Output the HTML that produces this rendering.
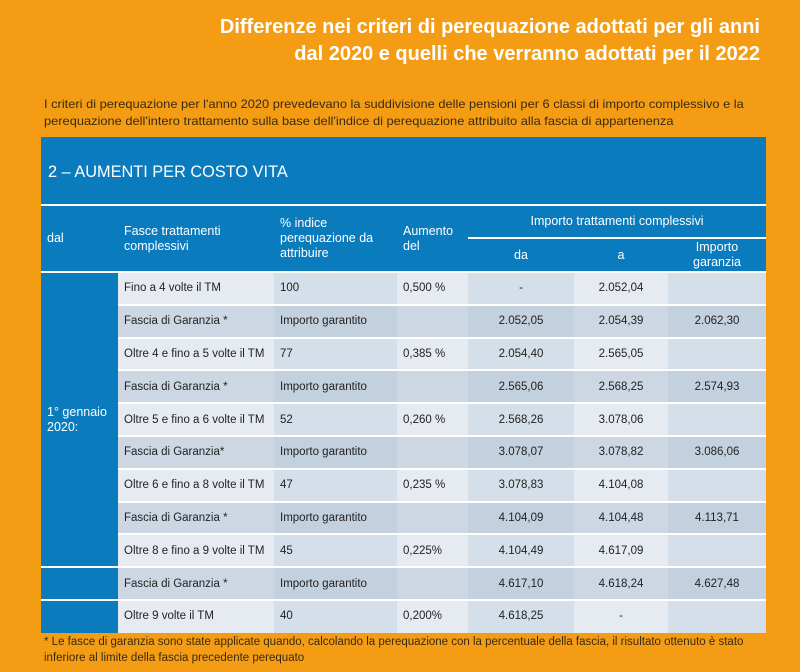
<!DOCTYPE html>
<html><head><meta charset="utf-8"><style>
*{margin:0;padding:0;box-sizing:border-box}
body{width:800px;height:672px;background:#f49d14;font-family:"Liberation Sans",sans-serif;position:relative;overflow:hidden}
.t{position:absolute;right:40px;color:#fff;font-weight:bold;font-size:20px;white-space:nowrap;transform-origin:right center;transform:scaleX(1.0)}
.i{position:absolute;left:44px;color:#3a2a10;font-size:12px;white-space:nowrap;transform-origin:left center;transform:scaleX(1.07)}
.box{position:absolute;left:41px;top:137px;width:725px;height:496px;background:#0a7bbd}
.cap{position:absolute;left:7px;top:25px;color:#fff;font-size:17px;transform-origin:left;transform:scaleX(0.96)}
.c{position:absolute;font-size:11.5px;color:#222;display:flex;align-items:center;padding-left:6px;white-space:nowrap}
.h{color:#fff;font-size:12.5px;line-height:15px;white-space:normal}
.ctr{justify-content:center;padding-left:0}
.wl{position:absolute;background:#fff}
</style></head><body>
<div class="t" style="top:16px">Differenze nei criteri di perequazione adottati per gli anni</div>
<div class="t" style="top:43px">dal 2020 e quelli che verranno adottati per il 2022</div>
<div class="i" style="top:97px">I criteri di perequazione per l'anno 2020 prevedevano la suddivisione delle pensioni per 6 classi di importo complessivo e la</div>
<div class="i" style="top:114px">perequazione dell'intero trattamento sulla base dell'indice di perequazione attribuito alla fascia di appartenenza</div>
<div class="box">
<div class="cap">2 – AUMENTI PER COSTO VITA</div>
</div>
<div class="i" style="top:636px;font-size:11.5px;transform:scaleX(1.0)">* Le fasce di garanzia sono state applicate quando, calcolando la perequazione con la percentuale della fascia, il risultato ottenuto è stato</div>
<div class="i" style="top:652px;font-size:11.5px;transform:scaleX(1.0)">inferiore al limite della fascia precedente perequato</div>
<script>
var box=document.querySelector('.box');
var X=[0,77,233,356,427,533,627,725];
var T0=135;
var rows=[
["Fino a 4 volte il TM","100","0,500 %","-","2.052,04",""],
["Fascia di Garanzia *","Importo garantito","","2.052,05","2.054,39","2.062,30"],
["Oltre 4 e fino a 5 volte il TM","77","0,385 %","2.054,40","2.565,05",""],
["Fascia di Garanzia *","Importo garantito","","2.565,06","2.568,25","2.574,93"],
["Oltre 5 e fino a 6 volte il TM","52","0,260 %","2.568,26","3.078,06",""],
["Fascia di Garanzia*","Importo garantito","","3.078,07","3.078,82","3.086,06"],
["Oltre 6 e fino a 8 volte il TM","47","0,235 %","3.078,83","4.104,08",""],
["Fascia di Garanzia *","Importo garantito","","4.104,09","4.104,48","4.113,71"],
["Oltre 8 e fino a 9 volte il TM","45","0,225%","4.104,49","4.617,09",""],
["Fascia di Garanzia *","Importo garantito","","4.617,10","4.618,24","4.627,48"],
["Oltre 9 volte il TM","40","0,200%","4.618,25","-",""]];
var H=32.8,html='';
function cell(x,y,w,h,txt,cls,bg){html+='<div class="c '+(cls||'')+'" style="left:'+x+'px;top:'+y+'px;width:'+w+'px;height:'+h+'px;'+(bg?'background:'+bg:'')+'">'+txt+'</div>';}
for(var r=0;r<11;r++){
 var y=T0+r*H, g=r%2==1;
 for(var k=1;k<7;k++){
  var bg=g?(k%2?'#ccd7e3':'#c3d0de'):(k%2?'#e6ebf1':'#d5dfe9');
  cell(X[k],y,X[k+1]-X[k],H,rows[r][k-1],k>=4?'ctr':'',bg);
 }
}
cell(0,68,77,67,'dal','h');
cell(X[1],68,X[2]-X[1],67,'Fasce trattamenti<br>complessivi','h');
cell(X[2],68,X[3]-X[2],67,'% indice<br>perequazione da<br>attribuire','h');
cell(X[3],68,X[4]-X[3],67,'Aumento<br>del','h');
cell(X[4],68,X[7]-X[4],33,'Importo trattamenti complessivi','h ctr');
cell(X[4],101,X[5]-X[4],34,'da','h ctr');
cell(X[5],101,X[6]-X[5],34,'a','h ctr');
cell(X[6],101,X[7]-X[6],34,'<span style="text-align:center">Importo<br>garanzia</span>','h ctr');
cell(0,T0,77,9*H,'1° gennaio<br>2020:','h');
function wl(x,y,w,h){html+='<div class="wl" style="left:'+x+'px;top:'+y+'px;width:'+w+'px;height:'+h+'px"></div>';}
wl(0,67,725,2);wl(0,T0-1,725,2);wl(X[4],100,X[7]-X[4],2);
for(var r=1;r<11;r++)wl(r>=9?0:X[1],T0+r*H-1,r>=9?725:X[7]-X[1],2);
for(var k=1;k<7;k++){var top=(k>=5)?100:67;wl(X[k]-1,top,2,496-top);}
box.insertAdjacentHTML('beforeend',html);
</script>
</body></html>
